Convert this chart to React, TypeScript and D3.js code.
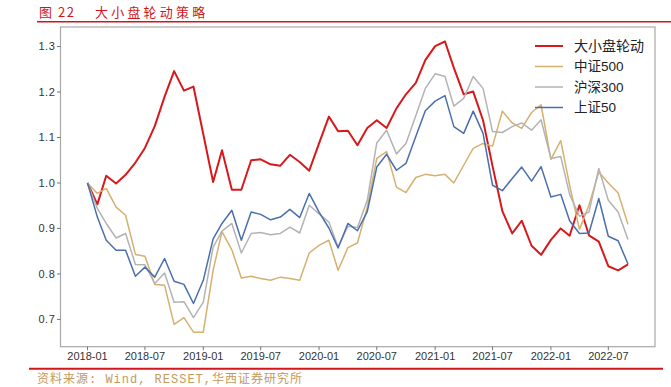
import React from "react";
import * as d3 from "d3";

const W = 671;
const H = 387;

const startMonth = new Date(2018, 0, 1);
const endMonth = new Date(2022, 8, 1);
const months: Date[] = d3.timeMonth.range(startMonth, d3.timeMonth.offset(endMonth, 1));

const seriesNames = ["大小盘轮动", "中证500", "沪深300", "上证50"];
const seriesColors = ["#d7191c", "#d6b06f", "#b3b3b3", "#4a6fad"];
const seriesWidths = [2, 1.5, 1.5, 1.5];

const rotation = [1.000,0.953,1.016,0.999,1.018,1.045,1.077,1.125,1.190,1.246,
  1.203,1.212,1.107,1.002,1.072,0.985,0.985,1.050,1.052,1.041,
  1.038,1.062,1.046,1.027,1.087,1.146,1.114,1.115,1.083,1.121,
  1.138,1.121,1.164,1.195,1.220,1.270,1.301,1.311,1.253,1.195,
  1.201,1.138,1.037,0.938,0.889,0.917,0.862,0.842,0.875,0.900,
  0.884,0.951,0.885,0.871,0.817,0.808,0.821];

const csi500 = [1.000,0.977,0.988,0.947,0.929,0.843,0.839,0.777,0.775,0.689,
  0.704,0.672,0.672,0.808,0.893,0.853,0.791,0.795,0.790,0.786,
  0.793,0.790,0.786,0.846,0.863,0.874,0.808,0.858,0.868,0.947,
  1.054,1.069,0.991,0.979,1.012,1.019,1.016,1.019,1.000,1.039,
  1.076,1.087,1.081,1.158,1.132,1.120,1.155,1.172,1.052,1.093,
  0.995,0.898,0.951,1.024,1.000,0.978,0.909];

const hs300 = [1.000,0.944,0.911,0.879,0.889,0.821,0.820,0.779,0.802,0.738,
  0.739,0.704,0.738,0.859,0.894,0.911,0.846,0.889,0.891,0.886,
  0.889,0.903,0.890,0.951,0.932,0.914,0.859,0.905,0.902,0.962,
  1.088,1.116,1.064,1.087,1.148,1.208,1.240,1.234,1.169,1.186,
  1.234,1.208,1.113,1.111,1.124,1.132,1.116,1.139,1.054,1.058,
  0.975,0.927,0.936,1.032,0.962,0.936,0.876];

const sz50 = [1.000,0.925,0.874,0.852,0.852,0.795,0.815,0.793,0.834,0.784,
  0.777,0.735,0.786,0.877,0.911,0.940,0.874,0.936,0.931,0.919,
  0.925,0.942,0.924,0.977,0.936,0.901,0.857,0.911,0.895,0.937,
  1.035,1.063,1.028,1.043,1.102,1.159,1.180,1.192,1.124,1.109,
  1.158,1.109,0.995,0.983,1.010,1.035,1.004,1.036,0.969,0.975,
  0.917,0.889,0.890,0.966,0.883,0.873,0.822];

const seriesValues = [rotation, csi500, hs300, sz50];
const yTicks = [0.7, 0.8, 0.9, 1.0, 1.1, 1.2, 1.3];

const titleNumber = "图 22";
const titleText = "大小盘轮动策略";
const sourceText = "资料来源: Wind, RESSET,华西证券研究所";

const FONT = "'Liberation Sans', Arial, 'Noto Sans CJK SC', sans-serif";

export default function App() {
  const plot = { left: 60.5, right: 655, top: 27, bottom: 346.7 };

  const t0 = months[0].getTime();
  const t1 = months[months.length - 1].getTime();
  const pad = (t1 - t0) * 0.05;
  const x = d3.scaleTime()
    .domain([new Date(t0 - pad), new Date(t1 + pad)])
    .range([plot.left, plot.right]);

  const yMin = d3.min(seriesValues.flat()) as number;
  const yMax = d3.max(seriesValues.flat()) as number;
  const yPad = (yMax - yMin) * 0.05;
  const y = d3.scaleLinear()
    .domain([yMin - yPad, yMax + yPad])
    .range([plot.bottom, plot.top]);

  const xTicks = d3.timeMonth.every(6)!.range(months[0], d3.timeMonth.offset(months[months.length - 1], 1))
    .filter((d) => d.getMonth() === 0 || d.getMonth() === 6);
  const fmt = d3.timeFormat("%Y-%m");

  const line = d3.line<number>()
    .x((_, i) => x(months[i]))
    .y((v) => y(v));

  const legendX = 535;
  const legendY0 = 46;
  const legendDy = 20.5;

  return (
    <svg width={W} height={H} style={{ position: "absolute", left: 0, top: 0, background: "#fff" }}>
      <text x={39} y={16.5} fill="#d0171c" fontSize={13} letterSpacing={1.5}
        fontFamily="'Noto Sans CJK SC', sans-serif">{titleNumber}</text>
      <text x={95} y={16.5} fill="#d0171c" fontSize={13} letterSpacing={3.2}
        fontFamily="'Noto Sans CJK SC', sans-serif">{titleText}</text>
      <line x1={37} x2={671} y1={21.8} y2={21.8} stroke="#d0171c" strokeWidth={1.5} />

      <rect x={plot.left} y={plot.top} width={plot.right - plot.left} height={plot.bottom - plot.top}
        fill="none" stroke="#a8a8a8" strokeWidth={1.2} />

      {yTicks.map((t) => (
        <g key={t}>
          <line x1={plot.left - 3.5} x2={plot.left} y1={y(t)} y2={y(t)} stroke="#555" strokeWidth={0.8} />
          <text x={plot.left - 5} y={y(t)} dy="0.35em" textAnchor="end" fontSize={11}
            fill="#333" fontFamily={FONT} letterSpacing={0.6}>{d3.format(".1f")(t)}</text>
        </g>
      ))}

      {xTicks.map((d) => (
        <g key={d.getTime()}>
          <line x1={x(d)} x2={x(d)} y1={plot.bottom} y2={plot.bottom + 3.5} stroke="#555" strokeWidth={0.8} />
          <text x={x(d)} y={plot.bottom + 13} textAnchor="middle" fontSize={11}
            fill="#333" fontFamily={FONT}>{fmt(d)}</text>
        </g>
      ))}

      {seriesValues.map((vals, k) => (
        <path key={k} d={line(vals) || ""} fill="none" stroke={seriesColors[k]}
          strokeWidth={seriesWidths[k]} strokeLinejoin="round" />
      ))}

      {seriesNames.map((name, k) => (
        <g key={name}>
          <line x1={legendX} x2={legendX + 28} y1={legendY0 + k * legendDy} y2={legendY0 + k * legendDy}
            stroke={seriesColors[k]} strokeWidth={seriesWidths[k]} />
          <text x={legendX + 39} y={legendY0 + k * legendDy} dy="0.36em" fontSize={k === 0 ? 14 : 13.5}
            fill="#222" fontFamily={FONT}>{name}</text>
        </g>
      ))}

      <line x1={29} x2={663} y1={368.8} y2={368.8} stroke="#d0171c" strokeWidth={2} />
      <text x={37} y={383} fontSize={12} fill="#c49a5c" letterSpacing={1.0}
        fontFamily="'Liberation Mono', 'Noto Sans CJK SC', monospace">{sourceText}</text>
    </svg>
  );
}
